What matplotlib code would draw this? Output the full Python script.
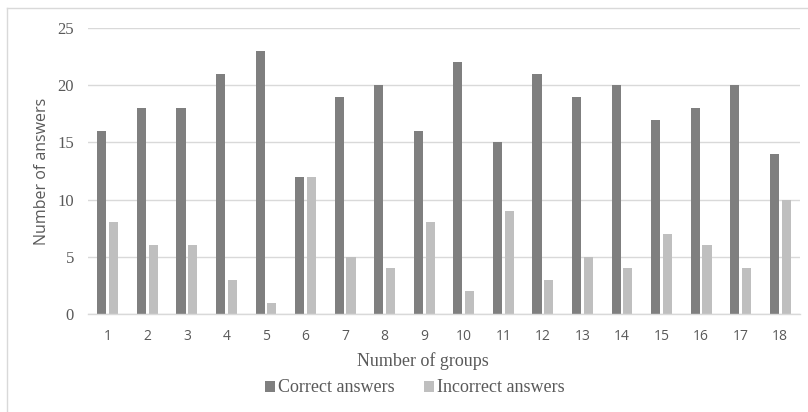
import matplotlib
matplotlib.use("Agg")
import matplotlib.pyplot as plt
import numpy as np
from matplotlib.lines import Line2D

groups = [str(i) for i in range(1, 19)]
correct = [16, 18, 18, 21, 23, 12, 19, 20, 16, 22, 15, 21, 19, 20, 17, 18, 20, 14]
incorrect = [8, 6, 6, 3, 1, 12, 5, 4, 8, 2, 9, 3, 5, 4, 7, 6, 4, 10]
yticks = [0, 5, 10, 15, 20, 25]

dark = "#7f7f7f"
light = "#bfbfbf"
txt = "#595959"
serif = ["Liberation Serif", "DejaVu Serif"]
sans = ["Open Sans", "DejaVu Sans"]

fig = plt.figure(figsize=(8.08, 4.12), dpi=100)
W, H = 808, 412
ax = fig.add_axes([88 / W, 1 - 314 / H, (800 - 88) / W, (314 - 28) / H])

x = np.arange(len(groups))
bw = 0.23
off = 0.15
ax.bar(x - off, correct, bw, color=dark, label="Correct answers", zorder=3)
ax.bar(x + off, incorrect, bw, color=light, label="Incorrect answers", zorder=3)

ax.set_xlim(-0.5, len(groups) - 0.5)
ax.set_ylim(0, 25)
ax.set_yticks(yticks)
ax.set_yticklabels([str(v) for v in yticks], fontfamily=serif, fontsize=12, color=txt)
ax.set_xticks(x)
ax.set_xticklabels(groups, fontfamily=sans, fontsize=10, color=txt)
ax.tick_params(axis="both", length=0)
ax.tick_params(axis="y", pad=10)
ax.tick_params(axis="x", pad=11)
ax.grid(axis="y", color="#d9d9d9", linewidth=1, zorder=0)
for s in ["top", "right", "left"]:
    ax.spines[s].set_visible(False)
ax.spines["bottom"].set_color("#d9d9d9")
ax.spines["bottom"].set_linewidth(1)
ax.spines["bottom"].set_zorder(4)

ax.set_ylabel("Number of answers", fontfamily=sans, fontsize=11.5, color=txt)
ax.yaxis.label.set_va("center")
ax.yaxis.set_label_coords((42 - 88) / 712, 0.5)
ax.set_xlabel("Number of groups", fontfamily=serif, fontsize=13, color=txt)
ax.xaxis.label.set_va("center")
ax.xaxis.set_label_coords((423 - 88) / 712, (314 - 361) / 286)

leg = fig.legend(loc="center", bbox_to_anchor=(415 / W, 1 - 388 / H), ncol=2, frameon=False,
                 prop={"family": serif, "size": 13}, handlelength=0.55, handleheight=0.55,
                 handletextpad=0.2, columnspacing=1.6, borderpad=0, borderaxespad=0)
for t in leg.get_texts():
    t.set_color(txt)

# outer border (top and left)
fig.add_artist(Line2D([7 / W, 7 / W], [0, 1 - 8 / H], transform=fig.transFigure, color="#d9d9d9", lw=1))
fig.add_artist(Line2D([7 / W, 1], [1 - 8 / H, 1 - 8 / H], transform=fig.transFigure, color="#d9d9d9", lw=1))

fig.savefig("out.png", dpi=100)
